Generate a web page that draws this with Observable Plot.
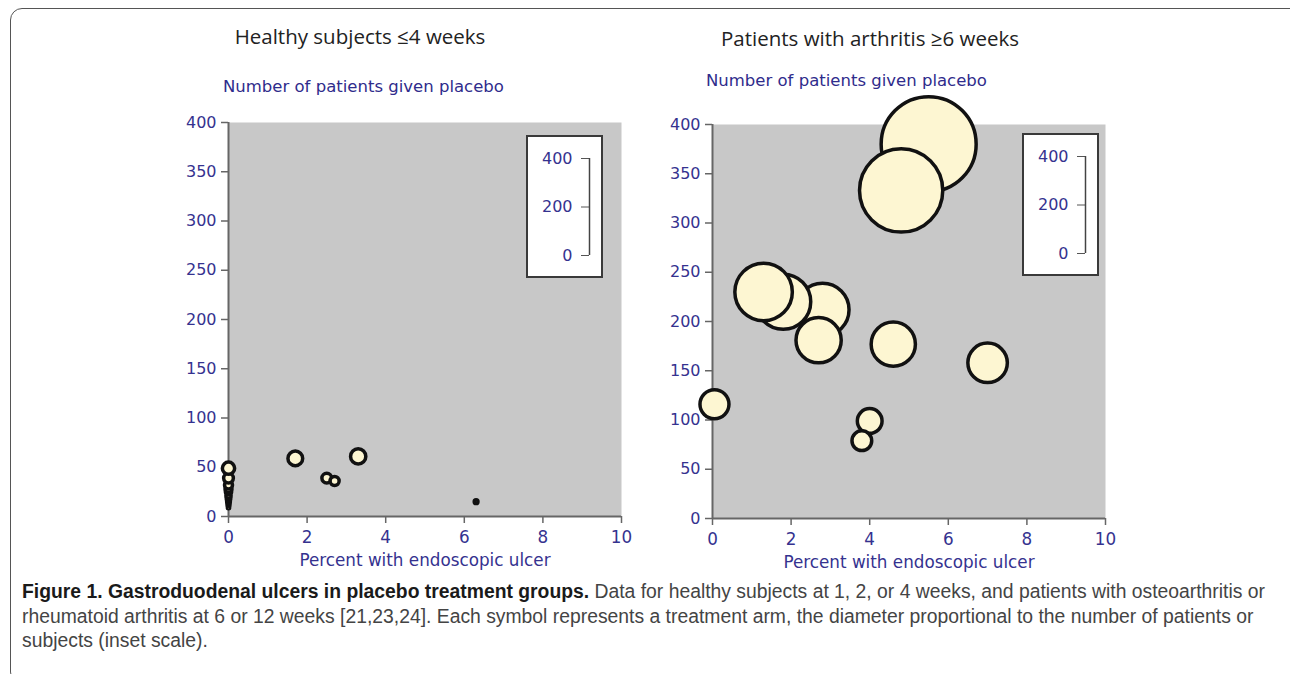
<!DOCTYPE html>
<html><head><meta charset="utf-8">
<script src="https://cdn.jsdelivr.net/npm/d3@7"></script>
<script src="https://cdn.jsdelivr.net/npm/@observablehq/plot@0.6"></script>
<style>
html,body{margin:0;padding:0;background:#fff;}
body{width:1290px;height:674px;position:relative;overflow:hidden;font-family:"DejaVu Sans",sans-serif;}
#border{position:absolute;left:10px;top:8px;width:1300px;height:676px;border:1.3px solid #555;border-radius:12px;box-sizing:border-box;}
.ttl{position:absolute;transform:translateX(-50%);white-space:nowrap;font-family:"Open Sans",sans-serif;font-size:20.5px;color:#222;}
.ylab{position:absolute;white-space:nowrap;font-family:"DejaVu Sans",sans-serif;font-size:16.5px;color:#2f2c8c;}
.panel{position:absolute;}
.inset{position:absolute;border:2px solid #3a3a3a;background:#fff;width:73px;height:139px;}
#caption{position:absolute;left:22px;top:579px;font-family:"Liberation Sans",sans-serif;font-size:19.5px;line-height:24.5px;color:#444;white-space:nowrap;transform-origin:0 0;}
#caption b{color:#1a1a1a;}
</style></head><body>
<div id="border"></div>
<div class="ttl" style="left:360px;top:22px;">Healthy subjects ≤4 weeks</div>
<div class="ttl" style="left:870px;top:24px;">Patients with arthritis ≥6 weeks</div>
<div class="ylab" style="left:223px;top:77px;">Number of patients given placebo</div>
<div class="ylab" style="left:706px;top:71px;">Number of patients given placebo</div>
<div class="panel" id="left" style="left:150px;top:100px;"></div>
<div class="panel" id="right" style="left:634px;top:100px;"></div>
<div class="inset" id="insetL" style="left:526px;top:135px;"></div>
<div class="inset" id="insetR" style="left:1022px;top:133px;"></div>
<div id="caption"><b>Figure 1. Gastroduodenal ulcers in placebo treatment groups.</b> Data for healthy subjects at 1, 2, or 4 weeks, and patients with osteoarthritis or<br>rheumatoid arthritis at 6 or 12 weeks [21,23,24]. Each symbol represents a treatment arm, the diameter proportional to the number of patients or<br>subjects (inset scale).</div>
<script>
// ---- data ----
const xTicks = [0, 2, 4, 6, 8, 10];
const yTicks = [0, 50, 100, 150, 200, 250, 300, 350, 400];
const insetTicks = [0, 200, 400];

// Healthy subjects ≤4 weeks: percent with ulcer, number of subjects (also bubble size)
const healthyPct = [0, 0, 0, 0, 0, 0, 0, 0, 0, 0, 1.7, 3.3, 2.5, 2.7, 6.3];
const healthyN   = [9, 12, 15, 18, 21, 25, 28, 32, 39, 49, 59, 61, 39, 36, 15];

// Patients with arthritis ≥6 weeks
const arthritisPct = [5.5, 4.8, 2.8, 1.8, 1.3, 2.7, 4.6, 7.0, 0.05, 4.0, 3.8];
const arthritisN   = [380, 333, 212, 220, 230, 181, 177, 158, 116, 99, 79];

const TICK = "#35328f", AXIS = "#666";

function panel(pct, n, top) {
  const data = pct.map((p, i) => ({pct: p, n: n[i]}));
  return Plot.plot({
    width: 500, height: 480,
    marginLeft: 78, marginRight: 29, marginTop: top, marginBottom: 480 - top - 394,
    style: {overflow: "visible", background: "transparent", fontFamily: "DejaVu Sans", fontSize: "16px"},
    x: {domain: [0, 10]},
    y: {domain: [0, 400]},
    r: {type: "linear", domain: [0, 400], range: [0, 50]},
    marks: [
      Plot.frame({fill: "#c8c8c8", stroke: null}),
      Plot.axisX({ticks: xTicks, tickSize: 7, tickPadding: 8, stroke: AXIS, fill: TICK, strokeWidth: 1.5,
        label: "Percent with endoscopic ulcer", labelAnchor: "center", labelArrow: false, labelOffset: 49, fontSize: 16.8}),
      Plot.axisY({ticks: yTicks, tickSize: 7, tickPadding: 5, stroke: AXIS, fill: TICK, strokeWidth: 1.5, label: null}),
      Plot.ruleX([0], {stroke: AXIS, strokeWidth: 2}),
      Plot.ruleY([0], {stroke: AXIS, strokeWidth: 2}),
      Plot.dot(data, {x: "pct", y: "n", r: "n", fill: "#fdf6d2", stroke: "#111", strokeWidth: 3.5, sort: null})
    ]
  });
}

function inset() {
  return Plot.plot({
    width: 73, height: 139,
    marginLeft: 61, marginRight: 12, marginTop: 21, marginBottom: 21,
    style: {overflow: "visible", background: "transparent", fontFamily: "DejaVu Sans", fontSize: "16px"},
    x: {domain: [0, 1], axis: null},
    y: {domain: [0, 400]},
    marks: [
      Plot.axisY({ticks: insetTicks, tickSize: 8, tickPadding: 9, stroke: "#555", fill: TICK, label: null}),
      Plot.ruleX([0], {y1: 0, y2: 400, stroke: "#444", strokeWidth: 1.5})
    ]
  });
}

document.getElementById("left").appendChild(panel(healthyPct, healthyN, 22));
document.getElementById("right").appendChild(panel(arthritisPct, arthritisN, 24));
document.getElementById("insetL").appendChild(inset());
document.getElementById("insetR").appendChild(inset());

// fit caption width to reference line length
const cap = document.getElementById("caption");
const w = cap.getBoundingClientRect().width;
cap.style.transform = `scaleX(${1243 / w})`;
</script>
</body></html>
